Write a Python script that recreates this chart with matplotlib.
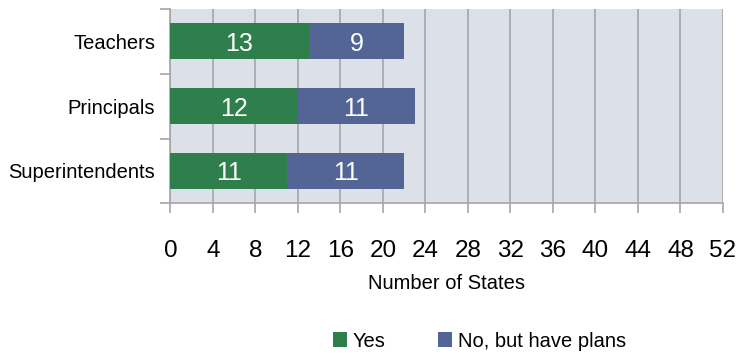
import numpy as np
import matplotlib.pyplot as plt

plt.rcParams['font.family'] = ['Liberation Sans Narrow', 'Liberation Sans', 'DejaVu Sans']

groups = ["Teachers", "Principals", "Superintendents"]
yes = [13, 12, 11]
plans = [9, 11, 11]
xticks = np.arange(0, 53, 4)

green = "#2e7f4c"
blue = "#536594"
grid_col = "#a6a6a6"

fig = plt.figure(figsize=(7.4, 3.56), dpi=100)
ax = fig.add_axes([0.2304, 0.4284, 0.7466, 0.5476])
ax.set_facecolor("#dce0e9")

pos = np.arange(len(groups))
b1 = ax.barh(pos, yes, height=0.54, color=green, label="Yes", zorder=3)
b2 = ax.barh(pos, plans, left=yes, height=0.54, color=blue,
             label="No, but have plans", zorder=3)
for bars in (b1, b2):
    for t in ax.bar_label(bars, label_type="center", color="white", fontsize=18):
        t.set_va("center_baseline")

ax.set_xlim(0, 52)
ax.set_ylim(2.5, -0.5)
ax.set_xticks(xticks)
ax.tick_params(axis="x", labelsize=17.5, length=7, width=1.2, color=grid_col, pad=19)
ax.set_yticks(pos)
ax.set_yticklabels(groups, fontsize=14.5)
ax.tick_params(axis="y", which="major", length=0, pad=11)
ax.set_yticks([-0.5, 0.5, 1.5, 2.5], minor=True)
ax.tick_params(axis="y", which="minor", length=7, width=1.2, color=grid_col)

ax.grid(axis="x", color=grid_col, linewidth=1.2, zorder=1)
ax.set_axisbelow(True)
for s in ("top", "right"):
    ax.spines[s].set_visible(False)
for s in ("left", "bottom"):
    ax.spines[s].set_color(grid_col)
    ax.spines[s].set_linewidth(1.2)

ax.set_xlabel("Number of States", fontsize=14.5, labelpad=9)

fig.legend(handles=[b1, b2], loc="center", bbox_to_anchor=(0.648, 0.042),
           ncol=2, frameon=False, fontsize=14.5, handlelength=0.7,
           handleheight=0.7, handletextpad=0.3, columnspacing=2.6)

fig.savefig("out.png", dpi=100)
